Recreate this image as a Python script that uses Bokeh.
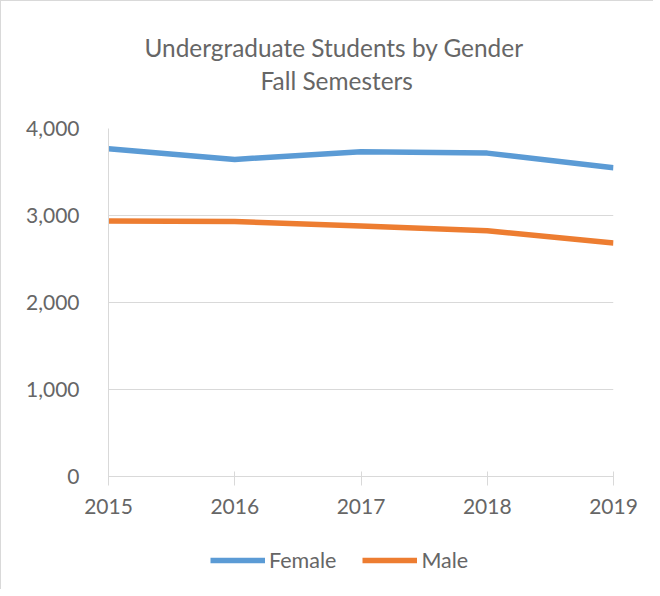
from bokeh.plotting import figure
from bokeh.layouts import column
from bokeh.models import Range1d, Legend, LegendItem, Title, FixedTicker, NumeralTickFormatter
from bokeh.embed import file_html
from bokeh.resources import INLINE

years = [2015, 2016, 2017, 2018, 2019]
female = [3767, 3645, 3732, 3717, 3549]
male = [2936, 2930, 2879, 2825, 2684]
y_ticks = [0, 1000, 2000, 3000, 4000]
series_names = ["Female", "Male"]
series_colors = ["#5B9BD5", "#ED7D31"]
title_1 = "Undergraduate Students by Gender"
title_2 = "Fall Semesters"

FONT = "Lato"
TXT = "#666666"
GRID = "#d9d9d9"

p = figure(width=652, height=530, output_backend="svg", toolbar_location=None,
           x_range=Range1d(2015, 2019), y_range=Range1d(0, 4000),
           min_border_left=107, min_border_right=40, min_border_top=127, min_border_bottom=55)
p.outline_line_color = None

spacer = Title(text="\u00a0", text_font=FONT, text_font_size="10px", text_color="white", standoff=20)
t2 = Title(text=title_2, align="left", offset=152, text_font=FONT,
           text_font_size="24.4px", text_color=TXT, text_font_style="normal", standoff=0)
t1 = Title(text=title_1, align="left", offset=36, text_font=FONT,
           text_font_size="24.4px", text_color=TXT, text_font_style="normal", standoff=2.4)
p.add_layout(spacer, "above")
p.add_layout(t2, "above")
p.add_layout(t1, "above")

p.line(years, female, line_color=series_colors[0], line_width=5.5, line_join="round")
p.line(years, male, line_color=series_colors[1], line_width=5.5, line_join="round")

p.xaxis.ticker = FixedTicker(ticks=years)
p.xaxis.minor_tick_line_color = None
p.xaxis.major_tick_in = 5
p.xaxis.major_tick_out = 9
p.xaxis.major_tick_line_color = GRID
p.xaxis.axis_line_color = GRID
p.xaxis.major_label_standoff = 13
p.xaxis.major_label_text_font = FONT
p.xaxis.major_label_text_font_size = "21px"
p.xaxis.major_label_text_color = TXT

p.yaxis.ticker = FixedTicker(ticks=y_ticks)
p.yaxis.formatter = NumeralTickFormatter(format="0,0")
p.yaxis.minor_tick_line_color = None
p.yaxis.major_tick_line_color = None
p.yaxis.major_tick_in = 0
p.yaxis.major_tick_out = 0
p.yaxis.axis_line_color = GRID
p.yaxis.major_label_standoff = 29
p.yaxis.major_label_text_font = FONT
p.yaxis.major_label_text_font_size = "21px"
p.yaxis.major_label_text_color = TXT

p.xgrid.grid_line_color = None
p.ygrid.ticker = FixedTicker(ticks=y_ticks)
p.ygrid.grid_line_color = GRID

# legend strip below the chart (its series lines fall outside its own ranges, so only the legend shows)
lg = figure(width=652, height=58, output_backend="svg", toolbar_location=None,
            x_range=Range1d(0, 1), y_range=Range1d(0, 1),
            min_border_left=107, min_border_right=40, min_border_top=0, min_border_bottom=0,
            x_axis_type=None, y_axis_type=None)
lg.outline_line_color = None
lg.xgrid.visible = False
lg.ygrid.visible = False
items = []
for name, col, vals in zip(series_names, series_colors, [female, male]):
    r = lg.line(years, vals, line_color=col, line_width=5.5)
    items.append(LegendItem(label=name, renderers=[r]))
legend = Legend(items=items, orientation="horizontal", location=(102, 16),
                glyph_width=55, glyph_height=20, label_standoff=4, spacing=26,
                padding=0, margin=0, border_line_color=None, background_fill_alpha=0,
                label_text_font=FONT, label_text_font_size="21.5px", label_text_color=TXT)
lg.add_layout(legend, "center")

layout = column(p, lg, spacing=0)
layout.styles = {"border-left": "1px solid #d9d9d9", "border-top": "1px solid #d9d9d9"}

open("out.html", "w").write(file_html(layout, INLINE))
